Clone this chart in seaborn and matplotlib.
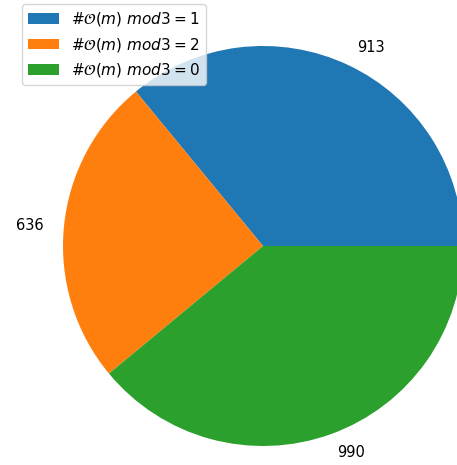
import matplotlib
matplotlib.use("Agg")
import matplotlib.pyplot as plt
import seaborn as sns

# counts per residue class
counts = [913, 636, 990]
legend_labels = [r'$\#\mathcal{O}(m)\ mod3 = 1$',
                 r'$\#\mathcal{O}(m)\ mod3 = 2$',
                 r'$\#\mathcal{O}(m)\ mod3 = 0$']

colors = sns.color_palette("tab10", 3)

fig = plt.figure(figsize=(4.57, 4.65), dpi=100)
# pie centre ~ (263, 246) px, radius ~ 200 px
ax = fig.add_axes([13/457, (465-496)/465, 500/457, 500/465])
wedges, texts = ax.pie(counts, labels=[str(c) for c in counts], colors=colors,
                       textprops={'fontsize': 10.5})
ax.set_aspect('equal')

fig.legend(wedges, legend_labels, loc='upper left',
           bbox_to_anchor=(22/457, 1 - 4/465), bbox_transform=fig.transFigure,
           borderaxespad=0, fontsize=11)

fig.savefig('out.png', dpi=100)
